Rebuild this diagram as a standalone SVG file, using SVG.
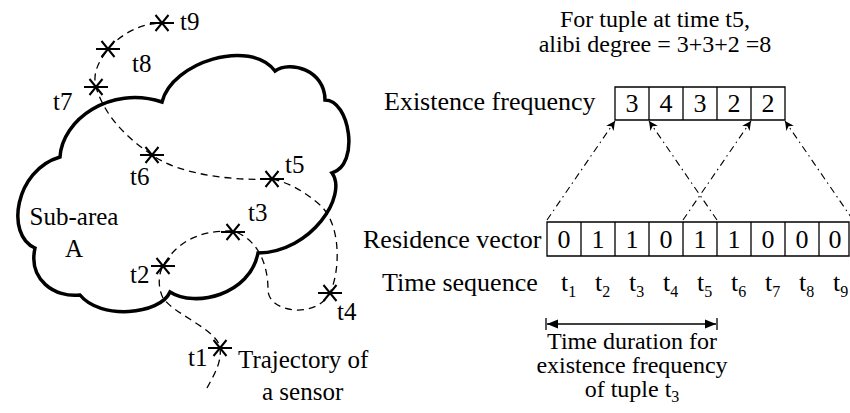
<svg xmlns="http://www.w3.org/2000/svg" width="850" height="413" viewBox="0 0 850 413">
<defs>
<marker id="ah" viewBox="0 0 10 10" refX="10" refY="5" markerWidth="9" markerHeight="9" markerUnits="userSpaceOnUse" orient="auto">
<path d="M0,0 L10,5 L0,10 L3,5 z" fill="#000"/>
</marker>
<marker id="ahs" viewBox="0 0 10 10" refX="0" refY="5" markerWidth="11" markerHeight="11" markerUnits="userSpaceOnUse" orient="auto">
<path d="M10,1 L0,5 L10,9 z" fill="#000"/>
</marker>
<marker id="ahe" viewBox="0 0 10 10" refX="10" refY="5" markerWidth="11" markerHeight="11" markerUnits="userSpaceOnUse" orient="auto">
<path d="M0,1 L10,5 L0,9 z" fill="#000"/>
</marker>
</defs>
<rect width="850" height="413" fill="#fff"/>

<g id="cloud">
<path d="M162,102 C172,62 250,38 275,71 C290,60 325,70 325,100 C350,100 360,165 332,173 C348,195 312,252 258,253 C250,295 195,308 170,292 C160,315 100,320 80,295 C55,298 28,280 35,248 C5,235 15,170 60,157 C62,120 110,85 162,102 Z" fill="none" stroke="#000" stroke-width="3.5"/>
<text font-family="Liberation Serif" font-size="25" x="74" y="225" text-anchor="middle">Sub-area</text>
<text font-family="Liberation Serif" font-size="25" x="74" y="257" text-anchor="middle">A</text>
</g>

<g id="trajectory">
<path fill="none" stroke="#000" stroke-width="1.3" stroke-dasharray="7 5" d="M207,388 C214,375 222,362 220,348 C218,330 175,315 163,298 C158,288 158,275 163,266 C175,245 195,230 233,231 C255,238 268,260 268,290 C268,312 315,320 330,293 C340,272 342,225 320,205 C305,192 290,183 272,179 C235,181 180,175 152,155 C130,140 105,118 96,87 C92,72 100,60 108,49 C120,35 140,23 162,23"/>
<text font-family="Liberation Serif" font-size="25" x="238" y="368">Trajectory of</text>
<text font-family="Liberation Serif" font-size="25" x="262" y="400">a sensor</text>
</g>

<g id="t1"><path stroke="#000" stroke-width="2" fill="none" d="M208,348 H232 M213.5,340 L226.5,356 M226.5,340 L213.5,356"/><text font-family="Liberation Serif" font-size="25" x="188" y="366">t1</text></g>
<g id="t2"><path stroke="#000" stroke-width="2" fill="none" d="M151,266 H175 M156.5,258 L169.5,274 M169.5,258 L156.5,274"/><text font-family="Liberation Serif" font-size="25" x="130" y="283">t2</text></g>
<g id="t3"><path stroke="#000" stroke-width="2" fill="none" d="M221,232 H245 M226.5,224 L239.5,240 M239.5,224 L226.5,240"/><text font-family="Liberation Serif" font-size="25" x="248" y="221">t3</text></g>
<g id="t4"><path stroke="#000" stroke-width="2" fill="none" d="M318,293 H342 M323.5,285 L336.5,301 M336.5,285 L323.5,301"/><text font-family="Liberation Serif" font-size="25" x="337" y="320">t4</text></g>
<g id="t5"><path stroke="#000" stroke-width="2" fill="none" d="M260,179 H284 M265.5,171 L278.5,187 M278.5,171 L265.5,187"/><text font-family="Liberation Serif" font-size="25" x="285" y="173">t5</text></g>
<g id="t6"><path stroke="#000" stroke-width="2" fill="none" d="M140,155 H164 M145.5,147 L158.5,163 M158.5,147 L145.5,163"/><text font-family="Liberation Serif" font-size="25" x="130" y="185">t6</text></g>
<g id="t7"><path stroke="#000" stroke-width="2" fill="none" d="M84,87 H108 M89.5,79 L102.5,95 M102.5,79 L89.5,95"/><text font-family="Liberation Serif" font-size="25" x="53" y="110">t7</text></g>
<g id="t8"><path stroke="#000" stroke-width="2" fill="none" d="M96,49 H120 M101.5,41 L114.5,57 M114.5,41 L101.5,57"/><text font-family="Liberation Serif" font-size="25" x="132" y="72">t8</text></g>
<g id="t9"><path stroke="#000" stroke-width="2" fill="none" d="M150,23 H174 M155.5,15 L168.5,31 M168.5,15 L155.5,31"/><text font-family="Liberation Serif" font-size="25" x="180" y="30">t9</text></g>

<g id="title">
<text font-family="Liberation Serif" font-size="24" x="655" y="27" text-anchor="middle">For tuple at time t5,</text>
<text font-family="Liberation Serif" font-size="24" x="655" y="52" text-anchor="middle">alibi degree = 3+3+2 =8</text>
</g>

<g id="existence">
<text font-family="Liberation Serif" font-size="26" x="384" y="110">Existence frequency</text>
<path d="M615,87 H785 V120 H615 Z M649,87 V120 M683,87 V120 M717,87 V120 M751,87 V120" fill="#fff" stroke="#000" stroke-width="1.3"/>
<text font-family="Liberation Serif" font-size="26" text-anchor="middle" x="632" y="112">3</text>
<text font-family="Liberation Serif" font-size="26" text-anchor="middle" x="666" y="112">4</text>
<text font-family="Liberation Serif" font-size="26" text-anchor="middle" x="700" y="112">3</text>
<text font-family="Liberation Serif" font-size="26" text-anchor="middle" x="734" y="112">2</text>
<text font-family="Liberation Serif" font-size="26" text-anchor="middle" x="768" y="112">2</text>
</g>

<g id="residence">
<text font-family="Liberation Serif" font-size="26" x="363" y="248">Residence vector</text>
<path d="M547,222 H849 V256 H547 Z M581,222 V256 M615,222 V256 M649,222 V256 M683,222 V256 M717,222 V256 M751,222 V256 M785,222 V256 M819,222 V256" fill="#fff" stroke="#000" stroke-width="1.3"/>
<text font-family="Liberation Serif" font-size="26" text-anchor="middle" x="564" y="248">0</text>
<text font-family="Liberation Serif" font-size="26" text-anchor="middle" x="598" y="248">1</text>
<text font-family="Liberation Serif" font-size="26" text-anchor="middle" x="632" y="248">1</text>
<text font-family="Liberation Serif" font-size="26" text-anchor="middle" x="666" y="248">0</text>
<text font-family="Liberation Serif" font-size="26" text-anchor="middle" x="700" y="248">1</text>
<text font-family="Liberation Serif" font-size="26" text-anchor="middle" x="734" y="248">1</text>
<text font-family="Liberation Serif" font-size="26" text-anchor="middle" x="768" y="248">0</text>
<text font-family="Liberation Serif" font-size="26" text-anchor="middle" x="802" y="248">0</text>
<text font-family="Liberation Serif" font-size="26" text-anchor="middle" x="835" y="248">0</text>
</g>

<g id="timeseq">
<text font-family="Liberation Serif" font-size="26" x="382" y="291">Time sequence</text>
<text font-family="Liberation Serif" font-size="26" x="561" y="291">t<tspan font-size="16" dy="6">1</tspan></text>
<text font-family="Liberation Serif" font-size="26" x="595" y="291">t<tspan font-size="16" dy="6">2</tspan></text>
<text font-family="Liberation Serif" font-size="26" x="629" y="291">t<tspan font-size="16" dy="6">3</tspan></text>
<text font-family="Liberation Serif" font-size="26" x="663" y="291">t<tspan font-size="16" dy="6">4</tspan></text>
<text font-family="Liberation Serif" font-size="26" x="697" y="291">t<tspan font-size="16" dy="6">5</tspan></text>
<text font-family="Liberation Serif" font-size="26" x="731" y="291">t<tspan font-size="16" dy="6">6</tspan></text>
<text font-family="Liberation Serif" font-size="26" x="765" y="291">t<tspan font-size="16" dy="6">7</tspan></text>
<text font-family="Liberation Serif" font-size="26" x="799" y="291">t<tspan font-size="16" dy="6">8</tspan></text>
<text font-family="Liberation Serif" font-size="26" x="833" y="291">t<tspan font-size="16" dy="6">9</tspan></text>
</g>

<g id="duration">
<path d="M546,318 V330 M717,318 V330" stroke="#000" stroke-width="1.3"/>
<path d="M547,324 H716" stroke="#000" stroke-width="1.5" marker-start="url(#ahs)" marker-end="url(#ahe)"/>
<text font-family="Liberation Serif" font-size="24" text-anchor="middle" x="632" y="349">Time duration for</text>
<text font-family="Liberation Serif" font-size="24" text-anchor="middle" x="632" y="373">existence frequency</text>
<text font-family="Liberation Serif" font-size="24" text-anchor="middle" x="632" y="397">of tuple t<tspan font-size="16" dy="5">3</tspan></text>
</g>

<g id="connectors" fill="none" stroke="#000" stroke-width="1.1" stroke-dasharray="7 4 1.5 4">
<path d="M547,220 L615,121" marker-end="url(#ah)"/>
<path d="M717,220 L649,121" marker-end="url(#ah)"/>
<path d="M683,220 L751,121" marker-end="url(#ah)"/>
<path d="M853,220 L785,121" marker-end="url(#ah)"/>
</g>
</svg>
